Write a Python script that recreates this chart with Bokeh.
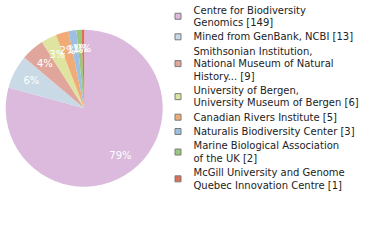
import numpy as np
from bokeh.plotting import figure
from bokeh.models import ColumnDataSource, Range1d
from bokeh.core.properties import value
from bokeh.embed import file_html
from bokeh.resources import INLINE

# ---- data ----
names = [
    "Centre for Biodiversity\nGenomics",
    "Mined from GenBank, NCBI",
    "Smithsonian Institution,\nNational Museum of Natural\nHistory...",
    "University of Bergen,\nUniversity Museum of Bergen",
    "Canadian Rivers Institute",
    "Naturalis Biodiversity Center",
    "Marine Biological Association\nof the UK",
    "McGill University and Genome\nQuebec Innovation Centre",
]
counts = [149, 13, 9, 6, 5, 3, 2, 1]
colors = ["#dcbadd", "#c9d9e5", "#e0a69b", "#dfe4a0", "#f0ab77", "#9dbfe1", "#9dc77c", "#de6d52"]

W, H = 380, 240
FONT = "DejaVu Sans"

p = figure(width=W, height=H, output_backend="svg", toolbar_location=None,
           x_range=Range1d(0, W), y_range=Range1d(0, H), min_border=0)
p.axis.visible = False
p.grid.visible = False
p.outline_line_color = None
p.background_fill_color = "white"
p.border_fill_color = "white"

# ---- pie ----
cx, cy, R = 83.7, H - 107.7, 78.5
vals = np.array(counts, dtype=float)
frac = vals / vals.sum()
cum = np.concatenate([[0.0], np.cumsum(frac)])
start = np.pi / 2 - 2 * np.pi * cum[:-1]
end = np.pi / 2 - 2 * np.pi * cum[1:]
src = ColumnDataSource(dict(start=start, end=end, color=colors))
p.wedge(x=cx, y=cy, radius=R, start_angle="start", end_angle="end",
        direction="clock", fill_color="color", line_color=None, source=src)

mid = (start + end) / 2
rl = R * 0.76
pct = [f"{int(np.floor(f * 100))}%" for f in frac]
lsrc = ColumnDataSource(dict(x=cx + rl * np.cos(mid), y=cy + rl * np.sin(mid), t=pct))
p.text(x="x", y="y", text="t", source=lsrc, text_color="white",
       text_font=value(FONT), text_font_size="10px",
       text_align="center", text_baseline="middle")

# ---- legend ----
lh, gap, y0 = 12.5, 1.8, 9.5
tx, ty, tt = [], [], []
sx, sy = [], []
y = y0
for n, c in zip(names, counts):
    lines = (n + f" [{c}]").split("\n")
    ys = [y + i * lh for i in range(len(lines))]
    for l, yy in zip(lines, ys):
        tx.append(193); ty.append(H - yy); tt.append(l)
    sx.append(177.5); sy.append(H - np.mean(ys))
    y = ys[-1] + lh + gap

p.rect(x=sx, y=sy, width=6, height=6, fill_color=colors,
       line_color="#7a7a7a", line_width=1)
p.text(x=tx, y=ty, text=tt, text_color="#222222", text_font=value(FONT),
       text_font_size="10px", text_align="left", text_baseline="middle")

open("out.html", "w").write(file_html(p, INLINE))
